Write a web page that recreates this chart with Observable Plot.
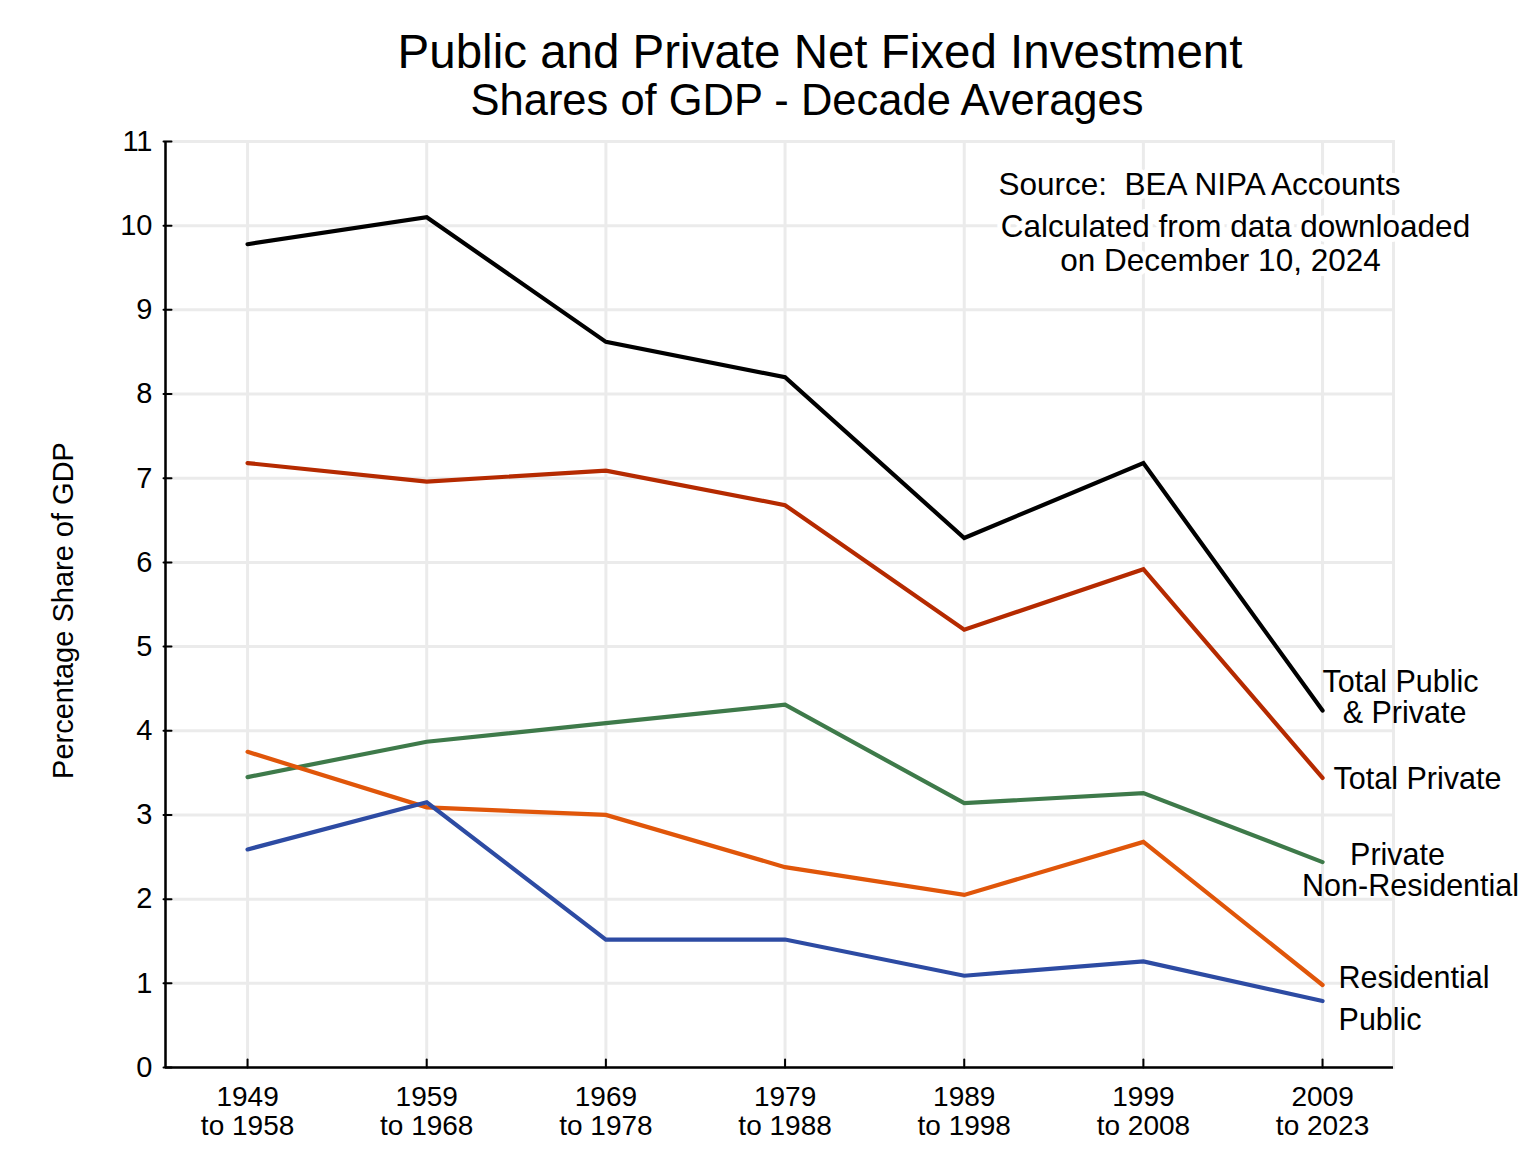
<!DOCTYPE html>
<html>
<head>
<meta charset="utf-8">
<script src="https://cdn.jsdelivr.net/npm/d3@7"></script>
<script src="https://cdn.jsdelivr.net/npm/@observablehq/plot@0.6"></script>
<style>
  html, body { margin: 0; padding: 0; background: white; }
  #wrap { position: relative; width: 1534px; height: 1168px; font-family: "Liberation Sans", Arial, Helvetica, sans-serif; }
  .title { position: absolute; width: 1640px; text-align: center; color: black; white-space: nowrap; line-height: 1; }
  #t1 { top: 28px; font-size: 47.5px; left: 0px; }
  #t2 { top: 79px; font-size: 43.5px; left: -13px; }
  svg { position: absolute; left: 0; top: 0; }
</style>
</head>
<body>
<div id="wrap">
  <div id="chart"></div>
  <div class="title" id="t1">Public and Private Net Fixed Investment</div>
  <div class="title" id="t2">Shares of GDP - Decade Averages</div>
</div>
<script>
// ---- data ----
const periods = ["1949\nto 1958", "1959\nto 1968", "1969\nto 1978", "1979\nto 1988", "1989\nto 1998", "1999\nto 2008", "2009\nto 2023"];
const yTicks = [0, 1, 2, 3, 4, 5, 6, 7, 8, 9, 10, 11];
const seriesNames = ["Total Public & Private", "Total Private", "Private Non-Residential", "Residential", "Public"];
const seriesColors = ["#000000", "#b52a00", "#3e7a4a", "#e0560a", "#2d4ba3"];
const totalPublicPrivate = [9.78, 10.10, 8.62, 8.20, 6.29, 7.18, 4.24];
const totalPrivate = [7.18, 6.96, 7.09, 6.68, 5.20, 5.92, 3.44];
const privateNonResidential = [3.45, 3.87, 4.09, 4.31, 3.14, 3.26, 2.44];
const residential = [3.75, 3.09, 3.00, 2.38, 2.05, 2.68, 0.98];
const publicInvestment = [2.59, 3.15, 1.52, 1.52, 1.09, 1.26, 0.79];
const endLabelLines = [["Total Public", "& Private"], ["Total Private"], ["Private", "Non-Residential"], ["Residential"], ["Public"]];
const notes = ["Source:  BEA NIPA Accounts", "Calculated from data downloaded", "on December 10, 2024"];

const seriesValues = [totalPublicPrivate, totalPrivate, privateNonResidential, residential, publicInvestment];
const rows = seriesNames.flatMap((name, s) => seriesValues[s].map((v, i) => ({series: name, i, v})));
const lastIndex = periods.length - 1;

// label styling offsets (pixels), one per label line
const lineStyle = [
  [{dx: 78, dy: -28, anchor: "middle"}, {dx: 82, dy: 3, anchor: "middle"}],
  [{dx: 11, dy: 1, anchor: "start"}],
  [{dx: 75, dy: -7, anchor: "middle"}, {dx: 88, dy: 24, anchor: "middle"}],
  [{dx: 16, dy: -7, anchor: "start"}],
  [{dx: 16, dy: 19, anchor: "start"}]
];
const labelRows = endLabelLines.flatMap((lines, s) => lines.map((text, k) => ({s, k, text, i: lastIndex, v: seriesValues[s][lastIndex]})));
const noteStyle = [
  {dx: 420, dy: 43},
  {dx: 456, dy: 85},
  {dx: 441, dy: 119}
];

const grid = "#ebebeb";
const xDomain = [-0.458, 6.396];
const font = "'Liberation Sans', Arial, Helvetica, sans-serif";

const tickShape = {draw(context, l) { context.moveTo(0, 0); context.lineTo(0, -l); }};

const chart = Plot.plot({
  width: 1534,
  height: 1168,
  marginTop: 141,
  marginLeft: 165,
  marginRight: 141,
  marginBottom: 101,
  style: {fontFamily: font, fontSize: "29px", color: "black", background: "white", overflow: "visible"},
  x: {type: "linear", domain: xDomain},
  y: {type: "linear", domain: [0, 11]},
  color: {domain: seriesNames, range: seriesColors},
  marks: [
    Plot.frame({stroke: grid, strokeWidth: 3}),
    Plot.ruleY(yTicks, {y: d => d, stroke: grid, strokeWidth: 3}),
    Plot.ruleX(d3.range(periods.length), {x: d => d, stroke: grid, strokeWidth: 3}),
    ...notes.map((note, n) => Plot.text([note], {frameAnchor: "top", dx: noteStyle[n].dx, dy: noteStyle[n].dy, text: d => d, fontSize: 31.5, fill: "black", stroke: "white", strokeWidth: 10, lineAnchor: "middle"})),
    Plot.line(rows, {x: "i", y: "v", z: "series", stroke: "series", strokeWidth: 4.2, strokeLinejoin: "miter", strokeMiterlimit: 4}),
    ...labelRows.map(d => Plot.text([d], {x: "i", y: "v", text: "text", dx: lineStyle[d.s][d.k].dx, dy: lineStyle[d.s][d.k].dy, textAnchor: lineStyle[d.s][d.k].anchor, lineAnchor: "middle", fontSize: 30.5, fill: "black"})),
    // axes
    Plot.ruleY([0], {stroke: "black", strokeWidth: 2.5}),
    Plot.ruleX([xDomain[0]], {stroke: "black", strokeWidth: 2.5}),
    Plot.vector(d3.range(periods.length), {x: d => d, y: () => 0, length: 8, rotate: 0, anchor: "start", shape: tickShape, stroke: "black", strokeWidth: 2}),
    Plot.vector(yTicks, {x: () => xDomain[0], y: d => d, length: 8, rotate: 90, anchor: "start", shape: tickShape, stroke: "black", strokeWidth: 2, dx: -2}),
    Plot.axisX(d3.range(periods.length), {tickSize: 0, tickPadding: 18, tickFormat: i => periods[i], fontSize: 28, lineHeight: 1.04, label: null}),
    Plot.axisY(yTicks, {tickSize: 0, tickPadding: 13, tickFormat: d3.format("d"), fontSize: 29, label: null}),
    Plot.text(["Percentage Share of GDP"], {frameAnchor: "left", dx: -102, dy: 6, rotate: -90, textAnchor: "middle", text: d => d, fontSize: 29, fill: "black"})
  ]
});
document.getElementById("chart").appendChild(chart);
</script>
</body>
</html>
